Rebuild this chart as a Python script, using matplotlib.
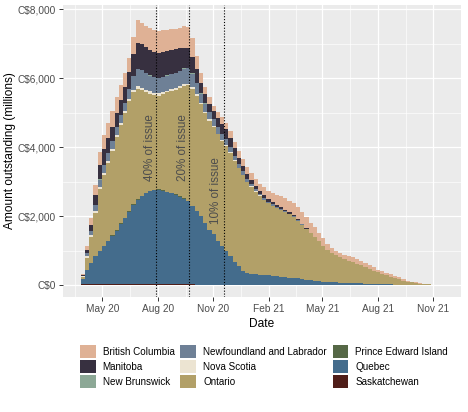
import numpy as np
import pandas as pd
import matplotlib
matplotlib.use("Agg")
import matplotlib.pyplot as plt
from matplotlib.patches import Patch

plt.rcParams['font.family'] = ['Liberation Sans', 'DejaVu Sans']

# ---------------- data (C$ millions, weekly from 2020-03-26) ----------------
dates = pd.date_range('2020-03-26', periods=85, freq='7D')

saskatchewan = [50]*14 + [40]*7 + [30]*6 + [10]*4 + [0]*54
quebec = [150, 400, 600, 790, 940, 1090, 1240, 1390, 1540, 1740,
          1890, 2090, 2290, 2440, 2550, 2630, 2690, 2730, 2740, 2710,
          2670, 2640, 2600, 2540, 2480, 2420, 2260, 2140, 1990, 1810,
          1610, 1500, 1300, 1150, 1000, 850, 680, 550, 420, 360,
          340, 320, 310, 300, 290, 280, 270, 250, 230, 220,
          220, 210, 190, 170, 150, 130, 120, 110, 100, 100,
          90, 80, 80, 70, 70, 60, 60, 50, 50, 40,
          40, 30, 30, 30, 20, 20, 20, 10, 10, 10,
          10, 10, 0, 0, 0]
prince_edward_island = [0]*3 + [10]*24 + [0]*58
ontario = [50, 350, 750, 1250, 1800, 2050, 2250, 2450, 2700, 2850,
           3050, 3200, 3270, 3200, 3060, 2920, 2820, 2740, 2710, 2790,
           2880, 2960, 3030, 3140, 3260, 3340, 3400, 3350, 3250, 3180,
           3160, 3080, 3080, 3050, 3050, 3000, 2940, 2850, 2780, 2640,
           2520, 2400, 2290, 2180, 2090, 2020, 1970, 1930, 1890, 1840,
           1760, 1670, 1570, 1480, 1370, 1270, 1160, 1040, 930, 840,
           790, 740, 690, 650, 600, 570, 520, 490, 430, 390,
           340, 300, 260, 220, 190, 160, 120, 100, 80, 60,
           40, 30, 30, 20, 10]
nova_scotia = [10] + [50]*12 + [70]*6 + [50]*7 + \
              [40, 40, 30, 30, 30, 30, 20, 20, 20, 20] + [10]*10 + [0]*39
newfoundland_labrador = [20, 80, 120, 180, 220, 240, 240, 240, 240, 240,
                         240, 280, 400, 500, 500, 480, 450, 440, 440, 440,
                         430, 430, 430, 440, 450, 450, 400, 330, 280, 240,
                         210, 200, 190, 180, 170, 150, 130, 110, 100, 80,
                         70, 60, 50, 50, 40, 40, 30, 30, 30, 20,
                         20, 20, 10] + [0]*32
new_brunswick = [0, 0] + [10]*29 + [0]*54
manitoba = [20, 100, 180, 280, 420, 450, 420, 400, 400, 420,
            450, 500, 620, 760, 760, 750, 740, 740, 730, 720,
            700, 690, 680, 650, 600, 560, 480, 380, 300, 260,
            240, 240, 260, 280, 280, 250, 210, 180, 160, 140,
            120, 100, 90, 80, 70, 60, 50, 50, 40, 40,
            30, 30, 20, 10] + [0]*31
british_columbia = [20, 120, 200, 300, 360, 400, 450, 470, 470, 450,
                    420, 400, 500, 660, 620, 620, 630, 630, 630, 630,
                    620, 600, 580, 600, 640, 620, 550, 400, 300, 220,
                    180, 160, 170, 190, 200, 200, 200, 200, 200, 200,
                    200, 200, 200, 220, 250, 270, 300, 320, 330, 340,
                    350, 350, 350, 320, 300, 280, 250, 220, 180, 140,
                    120, 120, 120, 130, 140, 150, 140, 120, 100, 90,
                    80, 80, 70, 70, 60, 50, 40, 30, 20, 20,
                    10, 10, 10, 0, 0]

provinces = ["British Columbia", "Manitoba", "New Brunswick",
             "Newfoundland and Labrador", "Nova Scotia", "Ontario",
             "Prince Edward Island", "Quebec", "Saskatchewan"]
series = [british_columbia, manitoba, new_brunswick, newfoundland_labrador,
          nova_scotia, ontario, prince_edward_island, quebec, saskatchewan]
colors = ["#DFB195", "#373040", "#8CA896", "#6E8096", "#ECE4D2",
          "#B2A068", "#566846", "#446C8C", "#501E19"]

cap_dates = ['2020-07-29', '2020-09-22', '2020-11-19']
cap_labels = ["40% of issue", "20% of issue", "10% of issue"]
cap_text_dates = ['2020-07-19', '2020-09-12', '2020-11-06']
cap_text_y = [4000, 4000, 2750]

tick_dates = ['2020-05-01', '2020-08-01', '2020-11-01', '2021-02-01',
              '2021-05-01', '2021-08-01', '2021-11-01']
tick_labels = ["May 20", "Aug 20", "Nov 20", "Feb 21", "May 21", "Aug 21", "Nov 21"]
y_ticks = [0, 2000, 4000, 6000, 8000]
y_labels = ["C$0", "C$2,000", "C$4,000", "C$6,000", "C$8,000"]

# ---------------- figure ----------------
fig = plt.figure(figsize=(4.68, 4.12), dpi=100)
ax = fig.add_axes([0.134, 0.280, 0.851, 0.708])
ax.set_facecolor("#EBEBEB")

# stack from bottom (last level) to top (first level), as ggplot does
lower = np.zeros(len(dates))
for name, vals, col in reversed(list(zip(provinces, series, colors))):
    v = np.asarray(vals, dtype=float)
    upper = lower + v
    ax.fill_between(dates, lower, upper, step='post', color=col, linewidth=0, zorder=2)
    lower = upper

for d in cap_dates:
    ax.axvline(pd.Timestamp(d), color="black", linestyle=(0, (1, 1.6)), linewidth=0.8, zorder=3)
for d, lab, yy in zip(cap_text_dates, cap_labels, cap_text_y):
    ax.text(pd.Timestamp(d), yy, lab, rotation=90, ha='center', va='center',
            fontsize=8.4, color="#4D4D4D", zorder=4)

ax.set_xlim(pd.Timestamp('2020-02-25'), pd.Timestamp('2021-12-08'))
ax.set_ylim(-325, 8130)

ax.set_xticks([pd.Timestamp(t) for t in tick_dates])
ax.set_xticklabels(tick_labels)
maj = [pd.Timestamp(t) for t in ['2020-02-01'] + tick_dates + ['2022-02-01']]
minor_x = [maj[i] + (maj[i + 1] - maj[i]) / 2 for i in range(len(maj) - 1)]
ax.set_xticks(minor_x, minor=True)
ax.set_yticks(y_ticks)
ax.set_yticklabels(y_labels)
ax.set_yticks([1000, 3000, 5000, 7000], minor=True)

ax.grid(which='major', color='white', linewidth=0.9, zorder=0)
ax.grid(which='minor', color='white', linewidth=0.45, zorder=0)
ax.set_axisbelow(True)
for s in ax.spines.values():
    s.set_visible(False)
ax.tick_params(which='major', length=3, width=0.7, color="#333333",
               labelsize=7.3, labelcolor="#4D4D4D", pad=2)
ax.tick_params(which='minor', length=0)

ax.set_xlabel("Date", fontsize=8.6, color="black", labelpad=3)
ax.set_ylabel("Amount outstanding (millions)", fontsize=8.6, color="black", labelpad=1)

handles = [Patch(facecolor=c, edgecolor='none', label=p) for p, c in zip(provinces, colors)]
fig.legend(handles=handles, ncol=3, loc='upper left',
           bbox_to_anchor=(80 / 468, 1 - 345 / 412), frameon=False,
           fontsize=7.1, handlelength=1.6, handleheight=1.6, handletextpad=0.7,
           labelspacing=0.25, columnspacing=0.6, borderpad=0, borderaxespad=0)

fig.savefig("out.png", dpi=100)
